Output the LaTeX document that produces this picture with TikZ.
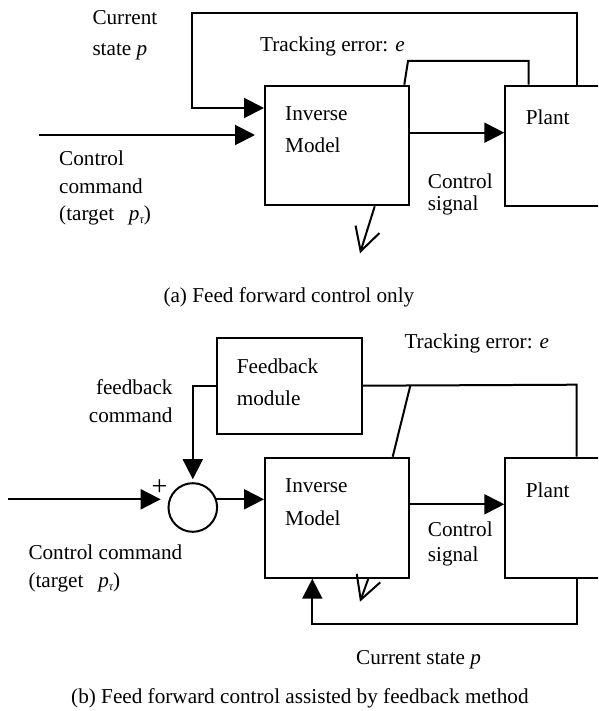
\documentclass[tikz,border=0pt]{standalone}
\usepackage{fontspec}
\setmainfont{Liberation Serif}
\usetikzlibrary{arrows.meta,calc}
\tikzset{
  ln/.style={line width=2pt},
  arr/.style={-{Triangle[length=20pt,width=20pt]}},
  barb/.style={-{Straight Barb[length=23pt,width=25pt]}},
  blk/.style={draw,line width=2pt,inner sep=0pt,anchor=north west},
  lbl/.style={anchor=base west,inner sep=0pt,font=\fontsize{21.2}{25}\selectfont},
  lblr/.style={anchor=base east,inner sep=0pt,font=\fontsize{21.2}{25}\selectfont},
}
\newcommand{\ptau}{{\itshape p}\raisebox{-0.3ex}{\fontsize{12}{12}\selectfont\itshape τ}}
\begin{document}
\begin{tikzpicture}[x=1pt,y=-1pt]
\useasboundingbox (0,0) rectangle (598,711);
\clip (0,0) rectangle (598,711);
\fill[white] (0,0) rectangle (598,711);

% ---------------- (a) ----------------
\node[blk,minimum width=144.3pt,minimum height=119.6pt] (invA) at (264,84.7) {};
\node[blk,minimum width=130pt,minimum height=120pt] (plantA) at (504.3,84.7) {};

\coordinate (ta) at (576.7,12.7);
\coordinate (tb) at (192,12.7);
\coordinate (csA) at ($(invA.north west)+(0,23.3)$);
\draw[ln,arr] (ta |- plantA.north) -- (ta) -- (tb) -- (tb |- csA) -- (csA);

\coordinate (cmdA) at (39,135);
\coordinate (cmdAend) at ($(invA.north west)+(-9,50.3)$);
\draw[ln,arr] (cmdA) -- (cmdAend);

\coordinate (ea) at (408,61);
\coordinate (eb) at (528.7,61);
\draw[ln] ($(invA.north east)+(-6,0)$) -- (ea) -- (eb) -- (eb |- plantA.north);

\draw[ln,arr] ($(invA.north east)+(0,48)$) -- ($(plantA.north west)+(0,48)$);

\coordinate (dA) at (360,253.3);
\draw[ln,barb] ($(invA.south east)+(-35.6,0)$) -- (dA);

\node[lbl] (tCur) at (92.3,24.3) {Current};
\node[lbl] (tState) at (92.3,56) {state {\itshape p}};
\node[lbl] (tTrA) at (260,52) {Tracking error: {\itshape e}};
\node[lbl] (tInvA) at (285,120.7) {Inverse};
\node[lbl] (tModA) at (285,152.7) {Model};
\node[lbl] (tPlA) at (525.7,124.3) {Plant};
\node[lbl] (tCsA) at (427.7,188.3) {Control};
\node[lbl] (tSgA) at (427.7,210.7) {signal};
\node[lbl] (tCcA) at (59,165.7) {Control};
\node[lbl] (tCmA) at (59,193.3) {command};
\node[lbl] (tTgA) at (59,220.5) {(target\hspace{0.7em}\ptau)};
\node[lbl] (capA) at (163.3,302.7) {(a) Feed forward control only};

% ---------------- (b) ----------------
\node[blk,minimum width=144.7pt,minimum height=96pt] (fb) at (216,336.7) {};
\node[blk,minimum width=144.3pt,minimum height=120pt] (invB) at (264,456.7) {};
\node[blk,minimum width=130pt,minimum height=120pt] (plantB) at (504.3,456.7) {};
\node[draw,line width=2pt,circle,minimum size=48.6pt,inner sep=0pt] (sum) at (192.8,507.5) {};

\coordinate (inB) at (8,499.3);
\draw[ln,arr] (inB) -- ($(sum.west)+(-6.8,-8.2)$);
\draw[ln,arr] ($(sum.center)+(22.9,-8.2)$) -- (invB.west |- inB);
\draw[ln,arr] (fb.west) -- (fb.west -| sum.center) -- ($(sum.north)+(0,-3)$);

\coordinate (ec) at (576.7,384.7);
\draw[ln] (fb.east) -- (ec) -- (ec |- plantB.north);
\draw[ln] ($(fb.east)+(47.6,0)$) -- ($(invB.north west)+(128.7,0)$);

\draw[ln,arr] ($(invB.north east)+(0,47.6)$) -- ($(plantB.north west)+(0,47.6)$);

\coordinate (bl) at (576.7,624.3);
\coordinate (br) at (312.3,624.3);
\draw[ln,arr] (plantB.south -| bl) -- (bl) -- (br) -- (br |- invB.south);

\coordinate (dB) at (360,601.7);
\draw[ln,barb] ($(invB.south east)+(-42,0)$) -- (dB);

\node[lbl] (tFb) at (236.7,373.3) {Feedback};
\node[lbl] (tMod) at (236.7,405) {module};
\node[lblr] (tFc1) at (172.7,394.3) {feedback};
\node[lblr] (tFc2) at (172.7,422.7) {command};
\node[lbl] (tTrB) at (404.3,348.3) {Tracking error: {\itshape e}};
\node[lbl] (tInvB) at (285,492.7) {Inverse};
\node[lbl] (tModB) at (285,525) {Model};
\node[lbl] (tPlB) at (525.7,497.3) {Plant};
\node[lbl] (tCsB) at (427.7,536) {Control};
\node[lbl] (tSgB) at (427.7,561.7) {signal};
\node[lbl] (tCcB) at (28.3,559.3) {Control command};
\node[lbl] (tTgB) at (28.3,587.7) {(target\hspace{0.7em}\ptau)};
\node[anchor=center,inner sep=0pt,font=\fontsize{28}{30}\selectfont] (plus) at (159.5,488) {+};
\node[lbl] (tCurB) at (356,664) {Current state {\itshape p}};
\node[lbl] (capB) at (71,703) {(b) Feed forward control assisted by feedback method};
\end{tikzpicture}
\end{document}
